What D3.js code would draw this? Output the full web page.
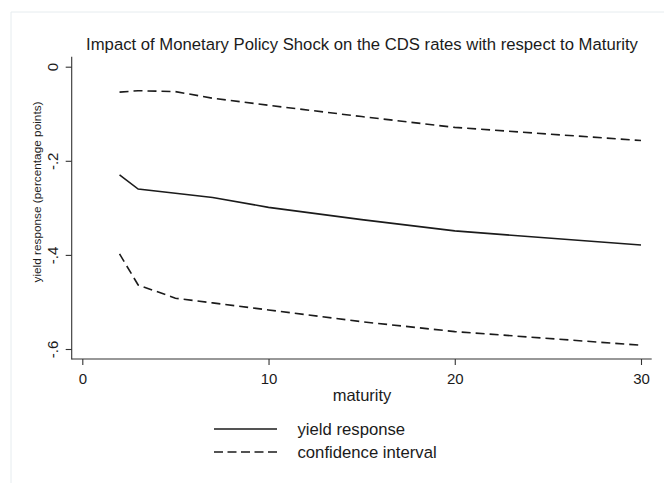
<!DOCTYPE html>
<html>
<head>
<meta charset="utf-8">
<script src="https://cdn.jsdelivr.net/npm/d3@7"></script>
<style>
html,body{margin:0;padding:0;background:#fff;}
svg{display:block;font-family:"Liberation Sans",Arial,sans-serif;}
</style>
</head>
<body>
<svg id="chart" width="664" height="483"></svg>
<script>
const maturity = [2, 3, 5, 7, 10, 15, 20, 30];
const yieldResponse = [-0.230, -0.260, -0.269, -0.278, -0.299, -0.325, -0.349, -0.379];
const upperCI = [-0.054, -0.051, -0.053, -0.067, -0.082, -0.106, -0.129, -0.157];
const lowerCI = [-0.398, -0.464, -0.492, -0.502, -0.517, -0.542, -0.563, -0.592];
const xTicks = [0, 10, 20, 30];
const yTicks = [0, -0.2, -0.4, -0.6];
const yTickLabels = ["0", "-.2", "-.4", "-.6"];

const svg = d3.select("#chart");
const ink = "#1b1b1b";

// faint outer graph-region border
svg.append("path").attr("d", "M11,483 V12 H664")
  .attr("fill", "none").attr("stroke", "#e6ecef").attr("stroke-width", 1);

const x = d3.scaleLinear().domain([0, 30]).range([82.3, 641]);
const y = d3.scaleLinear().domain([0, -0.6]).range([66.7, 349]);

const plotLeft = 71.7, plotRight = 651.7, plotTop = 56.7, plotBottom = 359;

// axes lines
svg.append("line").attr("x1", plotLeft).attr("x2", plotLeft).attr("y1", plotTop).attr("y2", plotBottom + 0.5)
  .attr("stroke", "#333").attr("stroke-width", 1.1);
svg.append("line").attr("x1", plotLeft).attr("x2", plotRight).attr("y1", plotBottom).attr("y2", plotBottom)
  .attr("stroke", "#333").attr("stroke-width", 1.1);

// x axis ticks
const xAxis = d3.axisBottom(x).tickValues(xTicks).tickSize(6).tickPadding(0).tickFormat(d3.format("d"));
const gx = svg.append("g").attr("transform", `translate(0,${plotBottom})`).call(xAxis);
gx.select(".domain").remove();
gx.selectAll(".tick line").attr("stroke", "#333").attr("stroke-width", 1.1);
gx.selectAll(".tick text").attr("fill", ink).attr("font-size", 15)
  .attr("font-family", "Liberation Sans, Arial, sans-serif").attr("dy", null).attr("y", 25);

// y axis ticks
const yAxis = d3.axisLeft(y).tickValues(yTicks).tickSize(6).tickFormat((d, i) => yTickLabels[i]);
const gy = svg.append("g").attr("transform", `translate(${plotLeft},0)`).call(yAxis);
gy.select(".domain").remove();
gy.selectAll(".tick line").attr("stroke", "#333").attr("stroke-width", 1.1);
gy.selectAll(".tick text").attr("fill", ink).attr("font-size", 15)
  .attr("font-family", "Liberation Sans, Arial, sans-serif")
  .attr("x", null).attr("dy", null)
  .attr("text-anchor", "middle")
  .attr("transform", "translate(-13.3,0) rotate(-90)");

// lines
const line = d3.line().x((d, i) => x(maturity[i])).y(d => y(d));
svg.append("path").datum(upperCI).attr("d", line).attr("fill", "none")
  .attr("stroke", ink).attr("stroke-width", 1.6).attr("stroke-dasharray", "9,5");
svg.append("path").datum(lowerCI).attr("d", line).attr("fill", "none")
  .attr("stroke", ink).attr("stroke-width", 1.6).attr("stroke-dasharray", "9,5");
svg.append("path").datum(yieldResponse).attr("d", line).attr("fill", "none")
  .attr("stroke", ink).attr("stroke-width", 1.6);

// title
svg.append("text").attr("x", 362).attr("y", 49.5).attr("text-anchor", "middle")
  .attr("font-size", 16.7).attr("fill", ink)
  .text("Impact of Monetary Policy Shock on the CDS rates with respect to Maturity");

// axis titles
svg.append("text").attr("x", 362).attr("y", 401).attr("text-anchor", "middle")
  .attr("font-size", 16.5).attr("fill", ink).text("maturity");
svg.append("text").attr("transform", "translate(40.7,192) rotate(-90)").attr("text-anchor", "middle")
  .attr("font-size", 11.8).attr("fill", ink).text("yield response (percentage points)");

// legend
const legend = [
  {label: "yield response", dash: null, y: 429},
  {label: "confidence interval", dash: "9,4.5", y: 452}
];
legend.forEach(l => {
  svg.append("line").attr("x1", 214).attr("x2", 277).attr("y1", l.y).attr("y2", l.y)
    .attr("stroke", ink).attr("stroke-width", 1.6).attr("stroke-dasharray", l.dash);
  svg.append("text").attr("x", 297.5).attr("y", l.y + 6).attr("font-size", 16.7)
    .attr("fill", ink).text(l.label);
});
</script>
</body>
</html>
